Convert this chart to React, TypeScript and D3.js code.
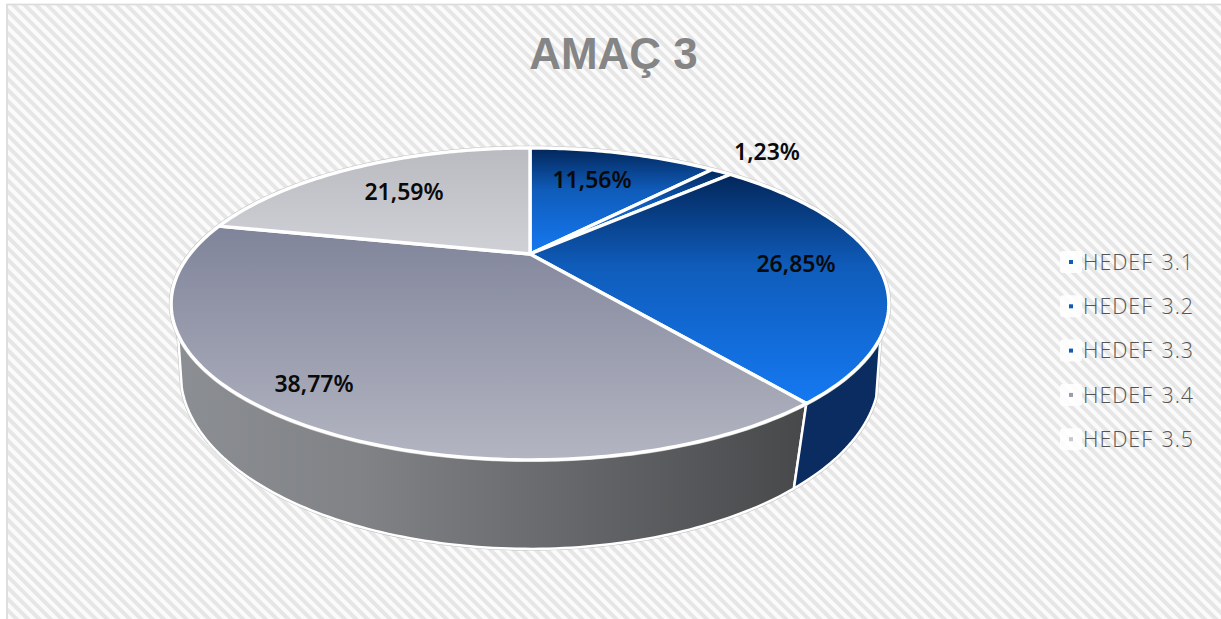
import React from "react";
import * as d3 from "d3";

const categories = ["HEDEF 3.1", "HEDEF 3.2", "HEDEF 3.3", "HEDEF 3.4", "HEDEF 3.5"];
const values = [11.56, 1.23, 26.85, 38.77, 21.59];
const valueLabels = ["11,56%", "1,23%", "26,85%", "38,77%", "21,59%"];
const legendColors = ["#0f5cb8", "#0f5cb8", "#0f5cb8", "#9a9bab", "#c6c7cf"];
const labelPositions: [number, number][] = [[592, 180], [767, 152], [796, 264], [314, 384], [404, 192]];

const W = 1221, H = 619;
const apexX = 530, apexY = 254;
const persp = -0.32, scaleX = 340, scaleY = 140;

function rim(a: number): [number, number] {
  const u = Math.sin(a), v = Math.cos(a) * -1;
  const w = 1 + persp * v;
  return [apexX + (scaleX * u) / w, apexY + (scaleY * v) / w];
}
function low(a: number): [number, number] {
  const [x, y] = rim(a);
  const v = -Math.cos(a);
  return [apexX + (x - apexX) * (0.985 - 0.038 * v), y + 70 + 19 * v];
}
const arcs = d3.pie<number>().sort(null).value((d) => d)(values);
const path = (pts: [number, number][]) => d3.line()(pts) as string;
function sample(a0: number, a1: number, f: (a: number) => [number, number]) {
  const n = Math.max(2, Math.ceil(Math.abs(a1 - a0) * 60));
  return d3.range(n + 1).map((i) => f(a0 + ((a1 - a0) * i) / n));
}
const rad = (d: number) => (d * Math.PI) / 180;
const sideStart = rad(120), sideEnd = rad(241);
const lowStart = rad(114), lowEnd = rad(249);
const split = arcs[2].endAngle;

const topFill = ["url(#blueTop)", "url(#blueTop)", "url(#blueTop)", "url(#greyTop)", "url(#lightTop)"];

export default function App() {
  return (
    <svg width={W} height={H} style={{ position: "absolute", left: 0, top: 0 }} xmlns="http://www.w3.org/2000/svg">
      <defs>
        <pattern id="hatch" width="8" height="8" patternUnits="userSpaceOnUse" patternTransform="rotate(45)">
          <rect width="8" height="8" fill="#fbfbfb" />
          <rect width="8" height="4" fill="#e6e6e6" />
        </pattern>
        <linearGradient id="blueTop" x1="0" y1="0" x2="0" y2="1">
          <stop offset="0" stopColor="#03265a" />
          <stop offset="0.4" stopColor="#0f5cba" />
          <stop offset="1" stopColor="#1579f2" />
        </linearGradient>
        <linearGradient id="greyTop" gradientUnits="userSpaceOnUse" x1="0" y1="226" x2="0" y2="460">
          <stop offset="0" stopColor="#80849a" />
          <stop offset="1" stopColor="#b3b5c1" />
        </linearGradient>
        <linearGradient id="lightTop" gradientUnits="userSpaceOnUse" x1="0" y1="148" x2="0" y2="254">
          <stop offset="0" stopColor="#babbc1" />
          <stop offset="1" stopColor="#d0d1d6" />
        </linearGradient>
        <linearGradient id="greySide" gradientUnits="userSpaceOnUse" x1="178" y1="0" x2="800" y2="0">
          <stop offset="0" stopColor="#8b8e92" />
          <stop offset="0.3" stopColor="#808286" />
          <stop offset="1" stopColor="#47494b" />
        </linearGradient>
      </defs>
      <rect width={W} height={H} fill="#fff" />
      <rect x={7} y={4.5} width={W + 10} height={H + 10} fill="url(#hatch)" stroke="#dcdcdc" strokeWidth={1.8} />

      <text x={613.5} y={69} textAnchor="middle" fontFamily="Liberation Sans" fontWeight="bold" fontSize={44} fill="#858585">AMAÇ 3</text>

      <path
        d={path([...sample(sideStart, sideEnd, rim), ...sample(lowEnd, lowStart, low)]) + "Z"}
        fill="#fff" stroke="#bdbdbd" strokeWidth={3.5} strokeLinejoin="round"
      />
      <path
        d={path([...sample(split, sideEnd, rim), ...sample(lowEnd, split, low)]) + "Z"}
        fill="url(#greySide)" stroke="#fff" strokeWidth={2.5} strokeLinejoin="round"
      />
      <path
        d={path([...sample(sideStart, split, rim), ...sample(split, lowStart, low)]) + "Z"}
        fill="#0a2c60" stroke="#fff" strokeWidth={2.5} strokeLinejoin="round"
      />

      <path d={path(sample(0, 2 * Math.PI, rim)) + "Z"} fill="none" stroke="#c4c4c4" strokeWidth={4.5} />
      {arcs.map((a, i) => (
        <path
          key={categories[i]}
          d={path([[apexX, apexY], ...sample(a.startAngle, a.endAngle, rim)]) + "Z"}
          fill={topFill[i]} stroke="#fff" strokeWidth={3.4} strokeLinejoin="round"
        />
      ))}

      {valueLabels.map((l, i) => (
        <text key={l} x={labelPositions[i][0]} y={labelPositions[i][1]} dy="0.36em" textAnchor="middle"
          fontFamily="Noto Sans" fontWeight={600} fontSize={23} fill="#0a0a0a">{l}</text>
      ))}

      {categories.map((c, i) => {
        const y = 262 + i * 44.3;
        return (
          <g key={c}>
            <rect x={1060} y={y - 11} width={22} height={22} rx={3} fill="#fff" opacity={0.85} />
            <rect x={1069} y={y - 2} width={4} height={4} fill={legendColors[i]} />
            <text x={1083} y={y} dy="0.36em" fontFamily="Open Sans" fontWeight={300} fontSize={21.5} letterSpacing={0.95} wordSpacing={2} fill="#555555">{c}</text>
          </g>
        );
      })}
    </svg>
  );
}
